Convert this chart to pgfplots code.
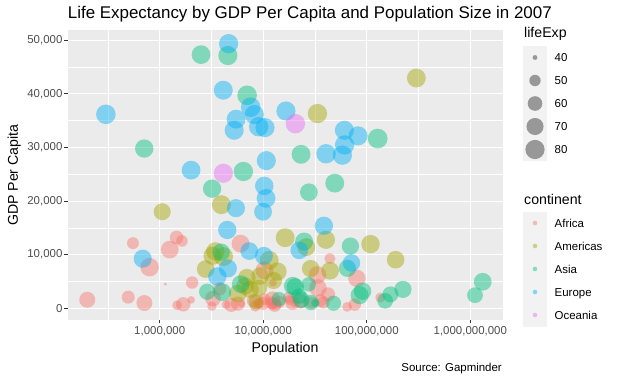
\documentclass[border=0pt]{standalone}
\usepackage{fontspec}
\setmainfont{Liberation Sans}
\usepackage{pgfplots}
\usepackage{pgfplotstable}
\pgfplotsset{compat=1.18}
\definecolor{bggrey}{HTML}{EBEBEB}
\definecolor{keygrey}{HTML}{F2F2F2}
\definecolor{grey30}{HTML}{4D4D4D}
\definecolor{grey20}{HTML}{333333}
\definecolor{cAfr}{HTML}{F8766D}
\definecolor{cAme}{HTML}{A3A500}
\definecolor{cAsi}{HTML}{00BF7D}
\definecolor{cEur}{HTML}{00B0F6}
\definecolor{cOce}{HTML}{E76BF3}

\pgfplotstableread{
pop gdp le
33333216 6223.367 72.301
12420476 4797.231 42.731
8078314 1441.285 56.728
1639131 12569.852 50.728
14326203 1217.033 52.295
8390505 430.071 49.580
17696293 2042.095 50.430
4369038 706.016 44.741
10238807 1704.064 50.651
710960 986.148 65.152
64606759 277.552 46.462
3800610 3632.558 55.322
18013409 1544.750 48.328
496374 2082.482 54.791
80264543 5581.181 71.338
551201 12154.090 51.579
4906585 641.369 58.040
76511887 690.806 52.947
1454867 13206.485 56.735
1688359 752.750 59.448
22873338 1327.609 60.022
9947814 942.654 56.007
1472041 579.232 46.388
35610177 1463.249 54.110
2012649 1569.331 42.592
3193942 414.507 45.678
6036914 12057.499 73.952
19167654 1044.770 59.443
13327079 759.350 48.303
12031795 1042.582 54.467
3270065 1803.152 64.164
1250882 10956.991 72.801
33757175 3820.175 71.164
19951656 823.686 42.082
2055080 4811.060 52.906
12894865 619.677 56.867
135031164 2013.977 46.859
798094 7670.123 76.442
8860588 863.088 46.242
199579 1598.435 65.528
12267493 1712.472 63.062
6144562 862.541 42.568
9118773 926.142 48.159
43997828 9269.658 49.339
42292929 2602.395 58.556
1133066 4513.481 39.613
38139640 1107.482 52.517
5701579 882.970 58.420
10276158 7092.923 73.923
29170398 1056.380 51.542
11746035 1271.212 42.384
12311143 469.709 43.487
}\africa

\pgfplotstableread{
pop gdp le
40301927 12779.380 75.320
9119152 3822.137 65.554
190010647 9065.801 72.390
33390141 36319.235 80.653
16284741 13171.639 78.553
44227550 7006.580 72.889
4133884 9645.061 78.782
11416987 8948.103 78.273
9319622 6025.375 72.235
13755680 6873.262 74.994
6939688 5728.354 71.878
12572928 5186.050 70.259
8502814 1201.637 60.916
7483763 3548.331 70.198
2780132 7320.880 72.567
108700891 11977.575 76.195
5675356 2749.321 72.899
3242173 9809.186 75.537
6667147 4172.838 71.752
28674757 7408.906 71.421
3942491 19328.709 78.746
1056608 18008.509 69.819
301139947 42951.653 78.242
3447496 10611.463 76.384
26084662 11415.806 73.747
}\americas

\pgfplotstableread{
pop gdp le
31889923 974.580 43.828
708573 29796.048 75.635
150448339 1391.254 64.062
14131858 1713.779 59.723
1318683096 4959.115 72.961
6980412 39724.979 82.208
1110396331 2452.210 64.698
223547000 3540.652 70.650
69453570 11605.714 70.964
27499638 4471.062 59.545
6426679 25523.277 80.745
127467972 31656.068 82.603
6053193 4519.461 72.535
23301725 1593.065 67.297
49044790 23348.140 78.623
2505559 47306.990 77.588
3921278 10461.059 71.993
24821286 12451.656 74.241
2874127 3095.772 66.803
47761980 944.000 62.069
28901790 1091.360 63.785
3204897 22316.193 75.640
169270617 2605.948 65.483
91077287 3190.481 71.688
27601038 21654.832 72.777
4553009 47143.180 79.972
20378239 3970.095 72.396
19314747 4184.548 74.143
23174294 28718.277 78.400
65068149 7458.396 70.616
85262356 2441.577 74.249
4018332 3025.350 73.422
22211743 2280.770 62.698
}\asia

\pgfplotstableread{
pop gdp le
3600523 5937.030 76.423
8199783 36126.493 79.829
10392226 33692.605 79.441
4552198 7446.299 74.852
7322858 10680.793 73.005
4493312 14619.223 75.748
10228744 22833.309 76.486
5468120 35278.419 78.332
5238460 33207.084 79.313
61083916 30470.017 80.657
82400996 32170.374 79.406
10706290 27538.412 79.483
9956108 18008.944 73.338
301931 36180.789 81.757
4109086 40675.996 78.885
58147733 28569.720 80.546
684736 9253.896 74.543
16570613 36797.933 79.762
4627926 49357.190 80.196
38518241 15389.925 75.563
10642836 20509.648 78.098
22276056 10808.476 72.476
10150265 9786.535 74.002
5447502 18678.314 74.663
2009245 25768.258 77.926
40448191 28821.064 80.941
9031088 33859.748 80.884
7554661 37506.419 81.701
71158647 8458.276 71.777
60776238 33203.261 79.425
}\europe

\pgfplotstableread{
pop gdp le
20434176 34435.367 81.235
4115771 25185.009 80.204
}\oceania

\pgfplotsset{
  bub/.style 2 args={scatter, only marks, mark=*,
    scatter/use mapped color={draw=#1, draw opacity=0, fill=#1, fill opacity=#2},
    visualization depends on={\thisrow{le} \as \lexp},
    scatter/@pre marker code/.append style={/tikz/mark size={1.65*(1+5*sqrt(max(\lexp-39.613,0)/42.99))}}},
  dot/.style={scatter, only marks, mark=*,
    scatter/use mapped color={draw=#1, draw opacity=0, fill=#1, fill opacity=0.45},
    mark size=2.3},
}

\begin{document}
\begin{tikzpicture}
\path[use as bounding box] (0,0) rectangle (618bp,381bp);
\begin{axis}[
  at={(67.5bp,61bp)}, anchor=south west,
  width=435bp, height=289.5bp, scale only axis,
  xmode=log, xmin=128580, xmax=2047400000,
  ymin=-2176.43, ymax=51811.17,
  scaled y ticks=false, scaled x ticks=false,
  axis background/.style={fill=bggrey},
  axis line style={draw=none},
  grid=both,
  major grid style={white, line width=1.1bp},
  minor grid style={white, line width=0.55bp},
  xtick={1000000,10000000,100000000,1000000000},
  xticklabels={{1,000,000},{10,000,000},{100,000,000},{1,000,000,000}},
  minor xtick={316227.8,3162277.7,31622776.6,316227766},
  ytick={0,10000,20000,30000,40000,50000},
  yticklabels={0,{10,000},{20,000},{30,000},{40,000},{50,000}},
  minor ytick={5000,15000,25000,35000,45000},
  tick align=outside, xtick pos=bottom, ytick pos=left,
  major tick length=3.4bp, minor tick length=0pt,
  every tick/.style={grey20, line width=1.1bp},
  ticklabel style={font=\fontsize{11.5}{13}\selectfont, text=grey30, inner sep=0pt},
  xticklabel style={yshift=-2.5bp},
  yticklabel style={xshift=-1.5bp},
]
\addplot[bub={cAfr}{0.45}] table[x=pop, y=gdp] {\africa};
\addplot[bub={cAme}{0.45}] table[x=pop, y=gdp] {\americas};
\addplot[bub={cAsi}{0.45}] table[x=pop, y=gdp] {\asia};
\addplot[bub={cEur}{0.45}] table[x=pop, y=gdp] {\europe};
\addplot[bub={cOce}{0.45}] table[x=pop, y=gdp] {\oceania};
\end{axis}

\begin{axis}[
  at={(0,0)}, anchor=south west,
  width=618bp, height=381bp, scale only axis,
  xmin=0, xmax=618, ymin=0, ymax=381, y dir=reverse,
  hide axis, clip=false,
]
\node[anchor=base west, inner sep=0pt, font=\fontsize{17}{20}\selectfont] at (axis cs:67.7,18.3) {Life Expectancy by GDP Per Capita and Population Size in 2007};
\node[anchor=base, inner sep=0pt, font=\fontsize{14.2}{17}\selectfont] at (axis cs:285,352) {Population};
\node[anchor=base, rotate=90, inner sep=0pt, font=\fontsize{14.2}{17}\selectfont] at (axis cs:17.8,175.25) {GDP Per Capita};
\node[anchor=base east, inner sep=0pt, font=\fontsize{11.5}{13}\selectfont] at (axis cs:502,371.5) {Source: Gapminder};
% lifeExp legend
\node[anchor=base west, inner sep=0pt, font=\fontsize{14.2}{17}\selectfont] at (axis cs:524,38) {lifeExp};
\addplot[fill=keygrey, draw=none] coordinates {(523,46) (547,46) (547,161) (523,161)} -- cycle;
\addplot[bub={black}{0.37}] table {
x y le
535 57.5 40
535 80.5 50
535 103.5 60
535 126.5 70
535 149.5 80
};
\node[anchor=base west, inner sep=0pt, font=\fontsize{11.5}{13}\selectfont] at (axis cs:554.5,61.6) {40};
\node[anchor=base west, inner sep=0pt, font=\fontsize{11.5}{13}\selectfont] at (axis cs:554.5,84.6) {50};
\node[anchor=base west, inner sep=0pt, font=\fontsize{11.5}{13}\selectfont] at (axis cs:554.5,107.6) {60};
\node[anchor=base west, inner sep=0pt, font=\fontsize{11.5}{13}\selectfont] at (axis cs:554.5,130.6) {70};
\node[anchor=base west, inner sep=0pt, font=\fontsize{11.5}{13}\selectfont] at (axis cs:554.5,153.6) {80};
% continent legend
\node[anchor=base west, inner sep=0pt, font=\fontsize{14.2}{17}\selectfont] at (axis cs:524,204.5) {continent};
\addplot[fill=keygrey, draw=none] coordinates {(523,211.5) (547,211.5) (547,326.5) (523,326.5)} -- cycle;
\addplot[dot=cAfr] coordinates {(535,223)};
\addplot[dot=cAme] coordinates {(535,246)};
\addplot[dot=cAsi] coordinates {(535,269)};
\addplot[dot=cEur] coordinates {(535,292)};
\addplot[dot=cOce] coordinates {(535,315)};
\node[anchor=base west, inner sep=0pt, font=\fontsize{11.5}{13}\selectfont] at (axis cs:554.5,227.1) {Africa};
\node[anchor=base west, inner sep=0pt, font=\fontsize{11.5}{13}\selectfont] at (axis cs:554.5,250.1) {Americas};
\node[anchor=base west, inner sep=0pt, font=\fontsize{11.5}{13}\selectfont] at (axis cs:554.5,273.1) {Asia};
\node[anchor=base west, inner sep=0pt, font=\fontsize{11.5}{13}\selectfont] at (axis cs:554.5,296.1) {Europe};
\node[anchor=base west, inner sep=0pt, font=\fontsize{11.5}{13}\selectfont] at (axis cs:554.5,319.1) {Oceania};
\end{axis}
\end{tikzpicture}
\end{document}
